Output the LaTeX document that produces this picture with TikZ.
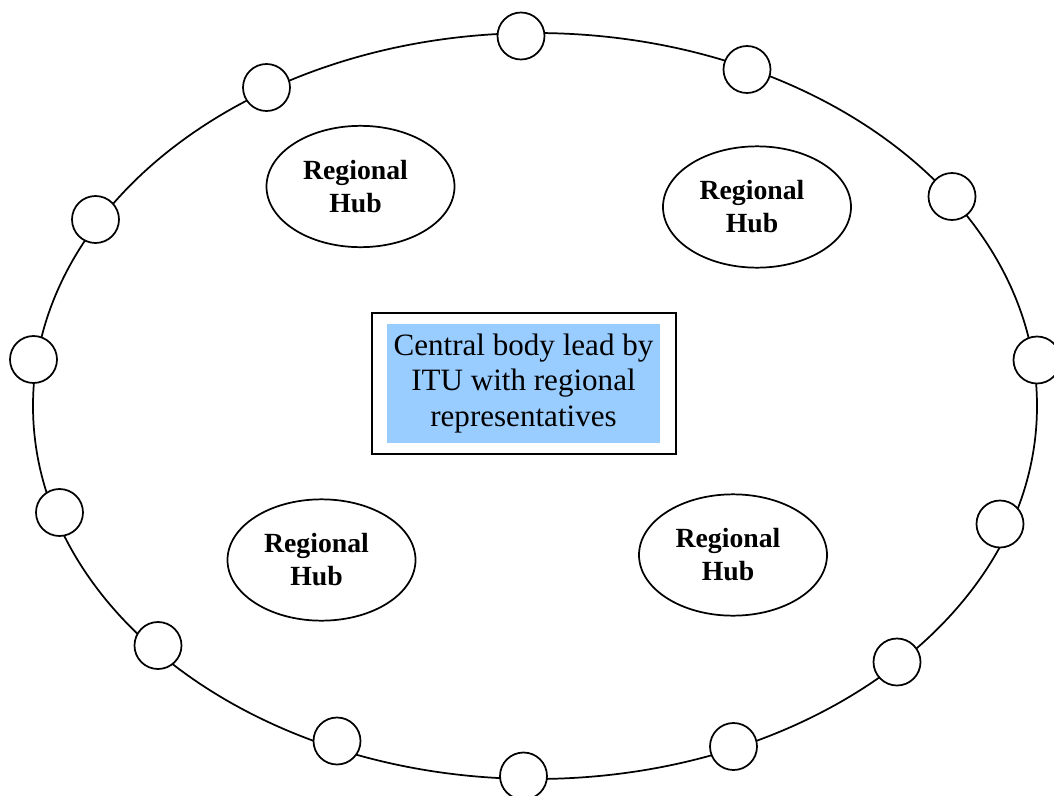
\documentclass[tikz,border=0pt]{standalone}
\usepackage{fontspec}
\setmainfont{Liberation Serif}
\usetikzlibrary{shapes.geometric}
\definecolor{boxblue}{HTML}{99CCFF}
\newcommand{\hubtext}{Regional\kern7.5pt\\Hub\kern7.5pt}
\tikzset{
  ring/.style={draw, line width=1.3pt, ellipse, inner sep=0pt},
  member/.style={draw, line width=1.3pt, circle, fill=white, inner sep=0pt, minimum size=35.25pt},
  hub/.style={draw, line width=1.3pt, ellipse, inner sep=0pt, minimum width=141pt, minimum height=91pt, align=center,
    font=\fontsize{20.8pt}{24.8pt}\selectfont\bfseries},
  frame/.style={draw, line width=1.3pt, inner sep=0pt, minimum width=228pt, minimum height=105.75pt},
  central/.style={fill=boxblue, inner sep=0pt, minimum width=204.75pt, minimum height=89.25pt, align=center,
    font=\fontsize{23.3pt}{26.6pt}\selectfont}
}
\begin{document}
\begin{tikzpicture}[x=0.75pt, y=-0.75pt]
\useasboundingbox (0,0) rectangle (1054,796);
\clip (0,0) rectangle (1054,796);
\node[ring, minimum width=753pt, minimum height=559.5pt] (ring) at (535,406) {};
\node[member] (m1) at (521,36) {};
\node[member] (m2) at (747,69.5) {};
\node[member] (m3) at (952,196.5) {};
\node[member] (m4) at (1037,360) {};
\node[member] (m5) at (1000,524) {};
\node[member] (m6) at (897,662) {};
\node[member] (m7) at (733.5,746.5) {};
\node[member] (m8) at (523.5,776) {};
\node[member] (m9) at (337,741) {};
\node[member] (m10) at (158,645.5) {};
\node[member] (m11) at (59.5,512.5) {};
\node[member] (m12) at (33.5,359.5) {};
\node[member] (m13) at (95.5,219.5) {};
\node[member] (m14) at (266.5,87.5) {};
\node[hub] (h1) at (360.5,186.5) {\hubtext};
\node[hub] (h2) at (757,207) {\hubtext};
\node[hub] (h3) at (321.5,560) {\hubtext};
\node[hub] (h4) at (733,555) {\hubtext};
\node[frame] (frame) at (524,383.5) {};
\node[central] (central) at (523.5,383.5) {Central body lead by\\ITU with regional\\representatives};
\end{tikzpicture}
\end{document}
